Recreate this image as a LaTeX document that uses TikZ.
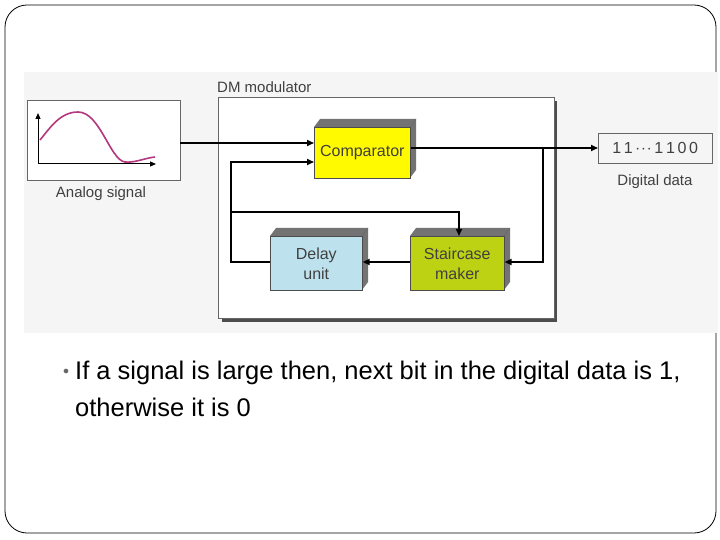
\documentclass[tikz,border=0pt]{standalone}
\usepackage{fontspec}
\setmainfont{Liberation Sans}
\usetikzlibrary{arrows.meta}
\definecolor{yel}{RGB}{255,250,0}
\definecolor{blu}{RGB}{190,225,238}
\definecolor{grn}{RGB}{190,210,20}
\begin{document}
\begin{tikzpicture}[x=1pt,y=-1pt,
  line/.style={line width=1.6pt,-{Triangle[length=7pt,width=6pt]}},
  lbl/.style={font=\fontsize{15}{16}\selectfont, inner sep=0pt, text=black!75},
  blk/.style={draw=black!70,line width=0.6pt,minimum width=#1,inner sep=0pt,align=center,font=\fontsize{16}{20}\selectfont,text=black!75}]
\useasboundingbox (0,0) rectangle (720,540);
\draw[line width=0.8pt,rounded corners=22pt] (5,5) rectangle (716,533);
\fill[black!4] (24,72) rectangle (718,333);
% DM modulator
\fill[black!70] (222,101) rectangle (557,322);
\draw[fill=white,line width=0.8pt,draw=black!60] (218,97) rectangle (554,318);
\node[lbl,anchor=south west] (dm) at (217,93) {DM modulator};
% Analog
\draw[fill=white,draw=black!60] (27,100) rectangle (180,180);
\node[lbl] (an) at (101,194) {Analog signal};
\draw[line width=1pt,-{Triangle[length=6pt,width=5pt]}] (38,164) -- (38,113);
\draw[line width=1pt,-{Triangle[length=6pt,width=5pt]}] (38,164) -- (156,164);
\draw[line width=1.6pt,magenta!70!black] (40,140) .. controls (50,128) and (60,112) .. (78,112) .. controls (100,112) and (110,160) .. (125,162) .. controls (135,163) and (145,158) .. (155,157);
\coordinate (aout) at (180,143);
% 3D blocks
\foreach \n/\x/\y/\w/\h/\c/\t in {cmp/314/127/96/51/yel/Comparator, del/270/236/92/54/blu/{Delay\\unit}, stc/410/236/94/54/grn/{Staircase\\maker}}{
  \fill[black!55] (\x,\y) -- ++(6,-8) -- ++(\w,0) -- ++(0,\h) -- ++(-6,8) -- cycle;
  \draw[black!60] (\x+\w,\y) -- ++(6,-8);
  \node[blk=\w pt,minimum height=\h pt,fill=\c,anchor=north west] (\n) at (\x,\y) {\t};
}
% digital
\node[draw=black!60,minimum width=114pt,minimum height=30pt,font=\fontsize{16}{17}\selectfont,text=black!75,anchor=north west,inner sep=0pt] (dig) at (598,133) {1\,1\,$\cdot\!\cdot\!\cdot$\,1\,1\,0\,0};
\node[lbl] (dl) at (655,182) {Digital data};
% connectors
\draw[line] (aout) -- (cmp.west |- aout);
\draw[line] (cmp.east |- 0,148) -- (dig.west |- 0,148);
\coordinate (br) at (543,148);
\draw[line] (br) -- (543,262) -- (stc.east |- 0,262);
\draw[line] (stc.west |- 0,262) -- (del.east |- 0,262);
\draw[line] (del.west |- 0,262) -- (231,262) -- (231,162) -- (cmp.west |- 0,162);
\draw[line] (231,212) -- (459,212) -- (stc.north -| 459,0);
% text
\node[anchor=west,inner sep=0pt] (bul) at (63,372) {\textcolor{black!60}{\fontsize{12}{12}\selectfont$\bullet$}};
\node[anchor=west,inner sep=0pt,font=\fontsize{25.5}{28}\selectfont] (b) at (75,373) {If a signal is large then, next bit in the digital data is 1,};
\node[anchor=west,inner sep=0pt,font=\fontsize{25.5}{28}\selectfont] (b2) at (75,407) {otherwise it is 0};
\end{tikzpicture}
\end{document}
